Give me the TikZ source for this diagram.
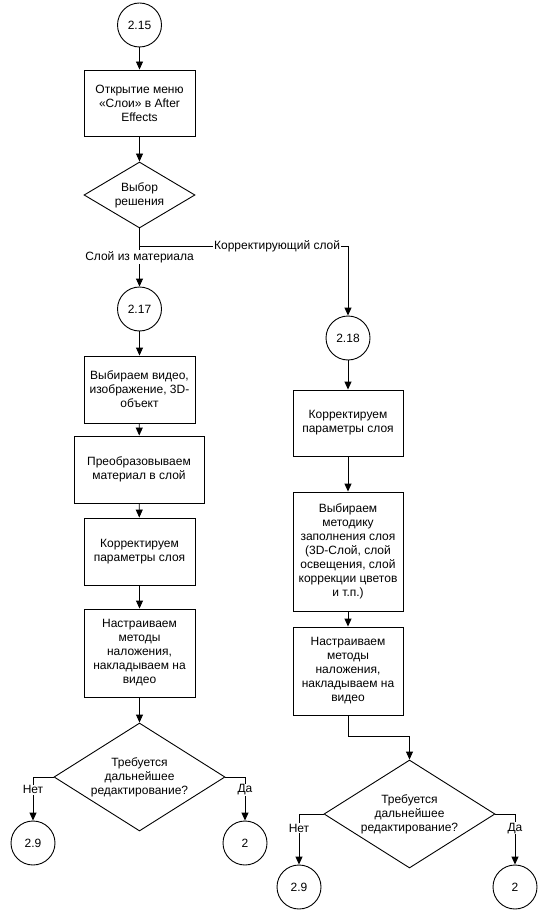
\documentclass[tikz,border=0pt]{standalone}
\usepackage{fontspec}
\setmainfont{Liberation Sans}
\usetikzlibrary{shapes.geometric,arrows.meta}
\begin{document}
\begin{tikzpicture}[x=1pt,y=-1pt,
  every node/.style={font=\fontsize{12}{14}\selectfont, align=center},
  box/.style={draw, line width=0.9pt, rectangle, inner sep=2pt, minimum width=111pt},
  conn/.style={draw, line width=0.9pt, circle, minimum size=44pt, inner sep=0pt},
  dia/.style={draw, line width=0.9pt, diamond, inner sep=0pt},
  arr/.style={line width=0.9pt, -{Triangle[width=7pt,length=8pt]}},
  ln/.style={line width=0.9pt},
  lbl/.style={fill=white, inner sep=1pt}]
\useasboundingbox (0,0) rectangle (548,912);
% left column
\node[conn] (c215) at (139.5,25) {2.15};
\node[box, minimum height=66pt] (b1) at (139.5,103) {Открытие меню\\«Слои» в After\\Effects};
\node[dia, shape aspect=1.68, minimum width=111pt, minimum height=66pt] (d1) at (139.5,195) {Выбор\\решения};
\coordinate (j1) at (139.5,246);
\node[conn] (c217) at (139.5,309) {2.17};
\node[box, minimum height=67pt] (b2) at (139.5,389.5) {Выбираем видео,\\изображение, 3D-\\объект};
\node[box, minimum width=130pt, minimum height=67pt] (b3) at (139,469.5) {Преобразовываем\\материал в слой};
\node[box, minimum height=67pt] (b4) at (139.5,551.5) {Корректируем\\параметры слоя};
\node[box, minimum height=88pt] (b5) at (139.5,653) {Настраиваем\\методы\\наложения,\\накладываем на\\видео};
\node[dia, shape aspect=1.58, minimum width=171pt, minimum height=108pt] (d2) at (139.5,777) {Требуется\\дальнейшее\\редактирование?};
\node[conn] (c29a) at (33,843) {2.9};
\node[conn] (c2a) at (245,843) {2};
% right column
\node[conn] (c218) at (348,338) {2.18};
\node[box, minimum width=110pt, minimum height=66pt] (r1) at (348,423) {Корректируем\\параметры слоя};
\node[box, minimum width=110pt, minimum height=119pt] (r2) at (348,551.5) {Выбираем\\методику\\заполнения слоя\\(3D-Слой, слой\\освещения, слой\\коррекции цветов\\и т.п.)};
\node[box, minimum width=110pt, minimum height=88pt] (r3) at (348,671) {Настраиваем\\методы\\наложения,\\накладываем на\\видео};
\coordinate (j2) at (348,736);
\node[dia, shape aspect=1.58, minimum width=171pt, minimum height=108pt] (d3) at (409.5,814) {Требуется\\дальнейшее\\редактирование?};
\node[conn] (c29b) at (299,887) {2.9};
\node[conn] (c2b) at (515,887) {2};
% connectors
\draw[arr] (c215) -- (b1);
\draw[arr] (b1) -- (d1);
\draw[ln] (d1.south) -- (j1);
\draw[arr] (j1) -- node[lbl, pos=0.27] {Слой из материала} (c217);
\draw[arr] (j1) -| node[lbl, pos=0.33] {Корректирующий слой} (c218);
\draw[arr] (c217) -- (b2);
\draw[arr] (b2) -- (b3);
\draw[arr] (b3) -- (b4);
\draw[arr] (b4) -- (b5);
\draw[arr] (b5) -- (d2);
\draw[arr] (d2.west) -| node[lbl, pos=0.648] {Нет} (c29a);
\draw[arr] (d2.east) -| node[lbl, pos=0.648] {Да} (c2a);
\draw[arr] (c218) -- (r1);
\draw[arr] (r1) -- (r2);
\draw[arr] (r2) -- (r3);
\draw[ln] (r3.south) -- (j2);
\draw[arr] (j2) -| (d3.north);
\draw[arr] (d3.west) -| node[lbl, pos=0.64] {Нет} (c29b);
\draw[arr] (d3.east) -| node[lbl, pos=0.64] {Да} (c2b);
\end{tikzpicture}
\end{document}
